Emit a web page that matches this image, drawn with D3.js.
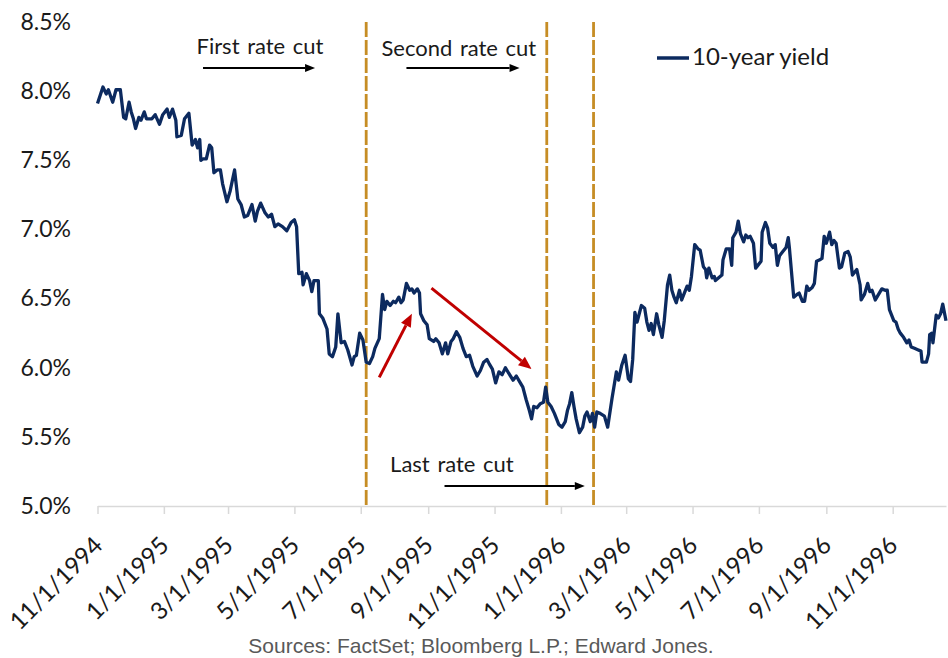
<!DOCTYPE html>
<html>
<head>
<meta charset="utf-8">
<script src="https://cdn.jsdelivr.net/npm/d3@7"></script>
<style>
  body { margin: 0; background: #fff; }
  svg { display: block; font-family: Lato, "Open Sans", sans-serif; }
</style>
</head>
<body>
<script>
// 10-year Treasury yield
var dates = [
  "1994-11-01","1994-11-06","1994-11-09","1994-11-11","1994-11-15","1994-11-18","1994-11-22","1994-11-25","1994-11-27","1994-11-30",
  "1994-12-02","1994-12-04","1994-12-06","1994-12-09","1994-12-11","1994-12-14","1994-12-16","1994-12-21","1994-12-24","1994-12-28","1994-12-31",
  "1995-01-04","1995-01-06","1995-01-09","1995-01-12","1995-01-13","1995-01-17","1995-01-20","1995-01-24","1995-01-27","1995-01-30",
  "1995-02-01","1995-02-03","1995-02-04","1995-02-06","1995-02-09","1995-02-12","1995-02-14","1995-02-16","1995-02-19","1995-02-22","1995-02-24","1995-02-28",
  "1995-03-03","1995-03-07","1995-03-10","1995-03-13","1995-03-16","1995-03-19","1995-03-23","1995-03-26","1995-03-28","1995-03-31",
  "1995-04-04","1995-04-07","1995-04-10","1995-04-13","1995-04-16","1995-04-20","1995-04-24","1995-04-28",
  "1995-05-01","1995-05-03","1995-05-05","1995-05-08","1995-05-09","1995-05-12","1995-05-15","1995-05-17","1995-05-19","1995-05-23","1995-05-24","1995-05-27","1995-05-31",
  "1995-06-02","1995-06-05","1995-06-08","1995-06-10","1995-06-13","1995-06-16","1995-06-19","1995-06-23","1995-06-25","1995-06-27","1995-06-30",
  "1995-07-03","1995-07-06","1995-07-09","1995-07-12","1995-07-14","1995-07-18","1995-07-21","1995-07-23","1995-07-25","1995-07-28","1995-07-31",
  "1995-08-02","1995-08-05","1995-08-07","1995-08-09","1995-08-12","1995-08-15","1995-08-17","1995-08-19","1995-08-22","1995-08-24","1995-08-25","1995-08-28","1995-08-31",
  "1995-09-02","1995-09-06","1995-09-08","1995-09-11","1995-09-14","1995-09-17","1995-09-19","1995-09-22","1995-09-24","1995-09-27","1995-09-30",
  "1995-10-03","1995-10-06","1995-10-09","1995-10-12","1995-10-16","1995-10-19","1995-10-22","1995-10-25","1995-10-27","1995-10-30",
  "1995-11-02","1995-11-05","1995-11-08","1995-11-11","1995-11-14","1995-11-18","1995-11-21","1995-11-24","1995-11-27","1995-11-30",
  "1995-12-03","1995-12-05","1995-12-07","1995-12-10","1995-12-13","1995-12-16","1995-12-18","1995-12-20","1995-12-23","1995-12-26","1995-12-30",
  "1996-01-02","1996-01-05","1996-01-07","1996-01-09","1996-01-11","1996-01-13","1996-01-15","1996-01-18","1996-01-21","1996-01-23","1996-01-25","1996-01-28","1996-01-30",
  "1996-02-01","1996-02-03","1996-02-06","1996-02-10","1996-02-13","1996-02-17","1996-02-21","1996-02-23","1996-02-26","1996-02-29",
  "1996-03-03","1996-03-05","1996-03-07","1996-03-09","1996-03-11","1996-03-13","1996-03-15","1996-03-18","1996-03-20","1996-03-22","1996-03-24","1996-03-26","1996-03-29","1996-03-31",
  "1996-04-03","1996-04-05","1996-04-08","1996-04-10","1996-04-12","1996-04-14","1996-04-16","1996-04-19","1996-04-21","1996-04-23","1996-04-26","1996-04-28","1996-04-30",
  "1996-05-03","1996-05-06","1996-05-08","1996-05-11","1996-05-13","1996-05-14","1996-05-16","1996-05-19","1996-05-21","1996-05-22","1996-05-25","1996-05-28","1996-05-29",
  "1996-06-01","1996-06-04","1996-06-06","1996-06-07","1996-06-10","1996-06-12","1996-06-14","1996-06-17","1996-06-19","1996-06-21","1996-06-23","1996-06-26","1996-06-28","1996-06-30",
  "1996-07-03","1996-07-04","1996-07-07","1996-07-09","1996-07-11","1996-07-14","1996-07-16","1996-07-18","1996-07-20","1996-07-23","1996-07-26","1996-07-28","1996-07-29",
  "1996-08-02","1996-08-05","1996-08-07","1996-08-10","1996-08-12","1996-08-14","1996-08-16","1996-08-19","1996-08-21","1996-08-23","1996-08-26","1996-08-28","1996-08-30",
  "1996-09-01","1996-09-04","1996-09-06","1996-09-08","1996-09-10","1996-09-13","1996-09-15","1996-09-18","1996-09-21","1996-09-23","1996-09-25","1996-09-27","1996-09-29",
  "1996-10-02","1996-10-03","1996-10-06","1996-10-09","1996-10-11","1996-10-13","1996-10-16","1996-10-19","1996-10-22","1996-10-25","1996-10-27","1996-10-29","1996-10-31",
  "1996-11-02","1996-11-04","1996-11-06","1996-11-08","1996-11-11","1996-11-14","1996-11-16","1996-11-18","1996-11-21","1996-11-24","1996-11-27","1996-11-28",
  "1996-12-02","1996-12-04","1996-12-05","1996-12-07","1996-12-08","1996-12-11","1996-12-13","1996-12-15","1996-12-17","1996-12-20"
];

var yields = [
  7.91,8.03,7.98,8.01,7.92,8.01,8.01,7.81,7.80,7.92,
  7.85,7.80,7.73,7.81,7.79,7.85,7.80,7.80,7.83,7.76,7.83,
  7.87,7.81,7.87,7.79,7.67,7.68,7.80,7.84,7.61,7.65,
  7.59,7.65,7.50,7.51,7.51,7.61,7.59,7.41,7.43,7.43,7.33,7.20,
  7.28,7.43,7.22,7.18,7.09,7.10,7.18,7.06,7.13,7.19,
  7.12,7.09,7.11,7.02,7.04,7.02,6.99,7.05,
  7.07,7.02,6.68,6.69,6.60,6.68,6.63,6.55,6.63,6.63,6.39,6.36,6.28,
  6.10,6.08,6.15,6.39,6.18,6.19,6.13,6.02,6.08,6.09,6.25,
  6.20,6.04,6.03,6.08,6.14,6.21,6.53,6.42,6.48,6.45,6.48,
  6.47,6.51,6.47,6.49,6.61,6.56,6.57,6.54,6.57,6.54,6.39,6.34,6.31,
  6.21,6.19,6.21,6.18,6.10,6.18,6.10,6.19,6.21,6.26,6.22,
  6.14,6.08,6.09,6.01,5.94,5.98,6.04,6.06,6.03,5.99,
  5.89,5.97,5.95,6.00,5.96,5.91,5.94,5.90,5.86,5.77,
  5.69,5.63,5.72,5.71,5.74,5.75,5.86,5.75,5.72,5.67,5.59,
  5.57,5.61,5.69,5.74,5.82,5.72,5.63,5.53,5.57,5.65,5.68,5.61,5.67,
  5.57,5.68,5.67,5.65,5.57,5.78,5.97,5.91,6.02,6.09,
  5.92,5.90,6.06,6.40,6.33,6.39,6.45,6.43,6.33,6.27,6.32,6.24,6.39,6.31,
  6.22,6.34,6.60,6.67,6.56,6.51,6.47,6.56,6.49,6.53,6.59,6.56,6.66,
  6.89,6.86,6.85,6.73,6.71,6.65,6.72,6.65,6.66,6.63,6.65,6.67,6.78,
  6.86,6.86,6.74,6.94,6.98,7.06,6.97,6.91,6.96,6.94,6.95,6.90,6.72,6.74,
  6.77,6.98,7.05,7.01,6.90,6.87,6.89,6.74,6.81,6.84,6.87,6.94,6.87,
  6.51,6.53,6.54,6.48,6.48,6.59,6.56,6.58,6.61,6.77,6.78,6.79,6.95,
  6.90,6.98,6.89,6.92,6.90,6.72,6.73,6.83,6.84,6.80,6.67,6.69,6.71,
  6.60,6.49,6.53,6.61,6.55,6.56,6.49,6.53,6.57,6.56,6.56,6.42,6.38,
  6.34,6.33,6.28,6.25,6.22,6.18,6.20,6.15,6.14,6.13,6.12,6.04,
  6.04,6.10,6.24,6.25,6.18,6.38,6.36,6.39,6.46,6.34
];

var yTicks = [5.0, 5.5, 6.0, 6.5, 7.0, 7.5, 8.0, 8.5];
var xTicks = ["1994-11-01","1995-01-01","1995-03-01","1995-05-01","1995-07-01","1995-09-01","1995-11-01",
              "1996-01-01","1996-03-01","1996-05-01","1996-07-01","1996-09-01","1996-11-01"];

// Fed rate cuts and their notes
var cutDates = ["1995-07-06", "1995-12-19", "1996-01-31"];
var cutLabels = ["First rate cut", "Second rate cut", "Last rate cut"];
var cutLabelDates = ["1995-01-31", "1995-07-20", "1995-07-28"];
var cutLabelLevels = [8.27, 8.255, 5.245];
var cutArrowFrom = ["1995-02-06", "1995-08-12", "1995-09-16"];
var cutArrowTo = ["1995-05-20", "1995-11-24", "1996-01-23"];
var cutArrowLevels = [8.167, 8.167, 5.145];

// red trend arrows
var trendFromDates = ["1995-07-18", "1995-09-04"];
var trendFromLevels = [5.93, 6.575];
var trendToDates = ["1995-08-17", "1995-12-05"];
var trendToLevels = [6.39, 5.99];

var parse = d3.timeParse("%Y-%m-%d");
var data = dates.map(function(d, i) { return {date: parse(d), value: yields[i]}; });

var width = 948, height = 658;

var svg = d3.select("body")
            .append("svg")
            .attr("width", width)
            .attr("height", height);

var x = d3.scaleTime()
          .domain([parse("1994-11-01"), parse("1996-12-20")])
          .range([97.5, 946]);

var y = d3.scaleLinear()
          .domain([5, 8.5])
          .range([506, 22]);

var navy = "#0c2a5f",
    gold = "#c68d25",
    red = "#c00000";

function drawArrow(g, x1, y1, x2, y2, color, w, headLen, headW) {
  var ang = Math.atan2(y2 - y1, x2 - x1);
  var bx = x2 - headLen * Math.cos(ang),
      by = y2 - headLen * Math.sin(ang);
  g.append("line")
    .attr("x1", x1).attr("y1", y1)
    .attr("x2", bx).attr("y2", by)
    .attr("stroke", color)
    .attr("stroke-width", w);
  var px = -Math.sin(ang) * headW / 2,
      py = Math.cos(ang) * headW / 2;
  g.append("path")
    .attr("d", "M" + x2 + "," + y2 + "L" + (bx + px) + "," + (by + py) + "L" + (bx - px) + "," + (by - py) + "Z")
    .attr("fill", color);
}

// x axis
var xAxis = d3.axisBottom(x)
              .tickValues(xTicks.map(parse))
              .tickFormat(d3.timeFormat("%-m/%-d/%Y"))
              .tickSize(8)
              .tickSizeOuter(0);

var gx = svg.append("g")
            .attr("class", "x axis")
            .attr("transform", "translate(0," + y(5) + ")")
            .call(xAxis);

gx.select(".domain").attr("stroke", "#d9d9d9").attr("stroke-width", 1.5);
gx.selectAll(".tick line").attr("stroke", "#d9d9d9").attr("stroke-width", 1.5);
gx.selectAll(".tick text")
  .attr("x", 0)
  .attr("y", 0)
  .attr("dy", null)
  .attr("text-anchor", "end")
  .attr("transform", "translate(6,41) rotate(-45)")
  .style("font-family", "Lato, sans-serif")
  .style("font-size", "24px")
  .attr("fill", "#1a1a1a");

// y axis, labels only
var yAxis = d3.axisLeft(y)
              .tickValues(yTicks)
              .tickFormat(function(d) { return d.toFixed(1) + "%"; })
              .tickSize(0)
              .tickPadding(0);

var gy = svg.append("g")
            .attr("class", "y axis")
            .attr("transform", "translate(71,0)")
            .call(yAxis);

gy.select(".domain").remove();
gy.selectAll(".tick text")
  .style("font-family", "Lato, sans-serif")
  .style("font-size", "23px")
  .attr("fill", "#1a1a1a");

// rate cut lines
svg.append("g")
    .selectAll("line")
    .data(cutDates)
  .enter().append("line")
    .attr("x1", function(d) { return x(parse(d)); })
    .attr("x2", function(d) { return x(parse(d)); })
    .attr("y1", y(8.5))
    .attr("y2", y(5))
    .attr("stroke", gold)
    .attr("stroke-width", 2.8)
    .attr("stroke-dasharray", "15,3");

// yield line
var line = d3.line()
             .x(function(d) { return x(d.date); })
             .y(function(d) { return y(d.value); });

svg.append("path")
    .datum(data)
    .attr("fill", "none")
    .attr("stroke", navy)
    .attr("stroke-width", 3.3)
    .attr("stroke-linejoin", "round")
    .attr("d", line);

// notes
var notes = svg.append("g").attr("class", "notes");

cutLabels.forEach(function(label, i) {
  notes.append("text")
    .attr("x", x(parse(cutLabelDates[i])))
    .attr("y", y(cutLabelLevels[i]))
    .style("font-size", "22px")
    .style("word-spacing", "2px")
    .attr("fill", "#1a1a1a")
    .text(label);
  drawArrow(notes,
            x(parse(cutArrowFrom[i])), y(cutArrowLevels[i]),
            x(parse(cutArrowTo[i])), y(cutArrowLevels[i]),
            "#000", 2, 10, 8);
});

trendFromDates.forEach(function(d, i) {
  drawArrow(notes,
            x(parse(d)), y(trendFromLevels[i]),
            x(parse(trendToDates[i])), y(trendToLevels[i]),
            red, 3, 13, 11);
});

// legend
var legend = svg.append("g").attr("class", "legend");
legend.append("line")
  .attr("x1", 657).attr("x2", 689)
  .attr("y1", 58).attr("y2", 58)
  .attr("stroke", navy)
  .attr("stroke-width", 3.5);
legend.append("text")
  .attr("x", 692)
  .attr("y", 65)
  .style("font-size", "24px")
  .attr("fill", "#1a1a1a")
  .text("10-year yield");

// source
svg.append("text")
  .attr("x", 481)
  .attr("y", 653)
  .attr("text-anchor", "middle")
  .style("font-family", "'Liberation Sans', Arial, sans-serif")
  .style("font-size", "21px")
  .attr("fill", "#595959")
  .text("Sources: FactSet; Bloomberg L.P.; Edward Jones.");
</script>
</body>
</html>
